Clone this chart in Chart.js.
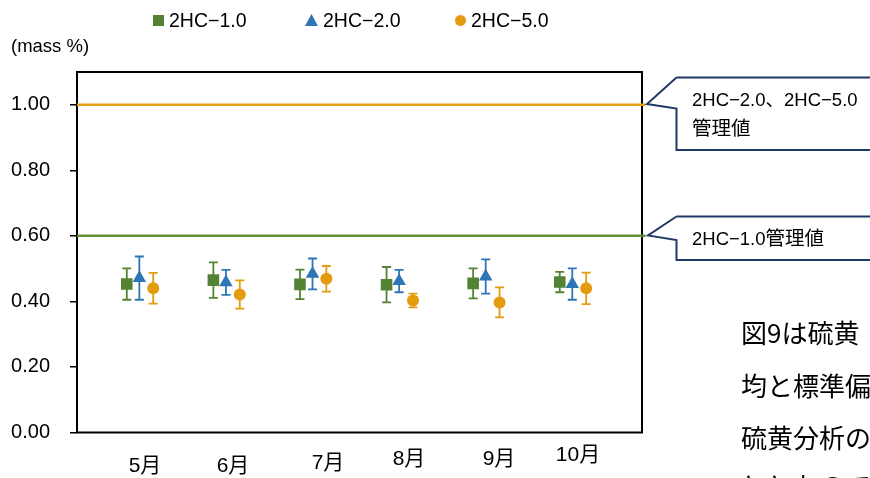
<!DOCTYPE html>
<html>
<head>
<meta charset="utf-8">
<script src="https://cdn.jsdelivr.net/npm/chart.js@4"></script>
<style>
  html, body { margin:0; padding:0; background:#fff; }
  #wrap { position:relative; width:870px; height:478px; overflow:hidden; font-family:"Liberation Sans","Noto Sans CJK JP",sans-serif; color:#000; }
  canvas { position:absolute; left:0; top:0; }
  .abs { position:absolute; white-space:nowrap; }
  .leg { position:absolute; top:9px; font-size:19.5px; line-height:22px; display:flex; align-items:center; }
  .mk { display:inline-block; margin-right:5px; }
  .month { position:absolute; font-size:21px; line-height:24px; transform:translate(-50%,-50%); font-family:"Liberation Sans","Noto Sans CJK JP",sans-serif; white-space:nowrap; }
  .note { position:absolute; left:741px; font-size:26px; font-family:"Noto Sans CJK JP",sans-serif; line-height:30px; white-space:nowrap; }
</style>
</head>
<body>
<div id="wrap">
  <canvas id="c" width="870" height="478"></canvas>
  <div id="legend"></div>
  <div class="abs" style="left:11px;top:35px;font-size:18.5px;">(mass %)</div>
  <div id="months"></div>
  <svg class="abs" style="left:0;top:0" width="870" height="478">
    <path d="M676.5,77.5 L870,77.5 M870,150 L676.5,150 L676.5,108.5 L647,104 L676.5,77.5" fill="#fff" stroke="#203864" stroke-width="2"/>
    <path d="M676.5,216.5 L870,216.5 M870,260 L676.5,260 L676.5,240 L648,235.5 L676.5,216.5" fill="#fff" stroke="#203864" stroke-width="2"/>
    <text x="692" y="106" font-size="18.5" font-family="Liberation Sans, Noto Sans CJK JP, sans-serif">2HC−2.0<tspan font-family="Noto Sans CJK JP, sans-serif">、</tspan>2HC−5.0</text>
    <text x="692" y="135" font-size="19.5" font-family="Noto Sans CJK JP, sans-serif">管理値</text>
    <text x="692" y="245" font-size="18.5" font-family="Liberation Sans, Noto Sans CJK JP, sans-serif">2HC−1.0<tspan font-family="Noto Sans CJK JP, sans-serif" font-size="19.5">管理値</tspan></text>
  </svg>
  <div class="note" style="top:317px;">図9は硫黄</div>
  <div class="note" style="top:370px;">均と標準偏</div>
  <div class="note" style="top:422px;">硫黄分析の</div>
  <div class="note" style="top:470px;">とともので</div>
</div>
<script>
// ---- data ----
const months = ['5月','6月','7月','8月','9月','10月'];
const seriesNames = ['2HC−1.0','2HC−2.0','2HC−5.0'];
const mean10 = [0.453, 0.465, 0.452, 0.451, 0.455, 0.459];
const sd10   = [0.048, 0.054, 0.045, 0.054, 0.046, 0.031];
const mean20 = [0.471, 0.458, 0.484, 0.462, 0.476, 0.453];
const sd20   = [0.066, 0.038, 0.047, 0.034, 0.052, 0.048];
const mean50 = [0.440, 0.421, 0.469, 0.403, 0.397, 0.440];
const sd50   = [0.047, 0.043, 0.039, 0.021, 0.046, 0.048];
const limit10   = 0.60;   // 2HC-1.0 管理値
const limit2050 = 1.00;   // 2HC-2.0、2HC-5.0 管理値
const yTicks = [0.00, 0.20, 0.40, 0.60, 0.80, 1.00];

// ---- styling / layout ----
const colors = ['#548235', '#2E75B6', '#E59B0E'];
const lineColors = {limit10:'#5E8F32', limit2050:'#E8A10E'};
const dodge = [-0.145, 0, 0.16];
const X_MIN = 0.28, X_MAX = 6.805, Y_MAX = 1.1;
const monthLabelPos = [[145,465],[233,465],[328,462],[409,458],[499,458],[578,454]];

const means = [mean10, mean20, mean50];
const sds = [sd10, sd20, sd50];
const styles = [
  {pointStyle:'rect', radius:8.2},
  {pointStyle:'triangle', radius:7.8},
  {pointStyle:'circle', radius:6}
];

// legend (HTML)
const legendPos = [153, 305, 455];
const legend = document.getElementById('legend');
seriesNames.forEach((n, i) => {
  const d = document.createElement('div');
  d.className = 'leg';
  d.style.left = legendPos[i] + 'px';
  let mk;
  if (i === 0) mk = '<span class="mk" style="width:11px;height:11px;background:'+colors[0]+'"></span>';
  else if (i === 1) mk = '<span class="mk" style="width:13px;height:12px;background:'+colors[1]+';clip-path:polygon(50% 0,100% 100%,0 100%)"></span>';
  else mk = '<span class="mk" style="width:11px;height:11px;border-radius:50%;background:'+colors[2]+'"></span>';
  d.innerHTML = mk + '<span>' + n + '</span>';
  legend.appendChild(d);
});

// month labels (text boxes)
const mdiv = document.getElementById('months');
months.forEach((m, i) => {
  const s = document.createElement('div');
  s.className = 'month';
  s.style.left = monthLabelPos[i][0] + 'px';
  s.style.top = monthLabelPos[i][1] + 'px';
  s.textContent = m;
  mdiv.appendChild(s);
});

const pointDatasets = means.map((arr, k) => ({
  label: seriesNames[k],
  data: arr.map((v, i) => ({x: i + 1 + dodge[k], y: v, sd: sds[k][i]})),
  showLine: false,
  pointStyle: styles[k].pointStyle,
  pointRadius: styles[k].radius,
  pointHoverRadius: styles[k].radius,
  backgroundColor: colors[k],
  borderColor: colors[k],
  borderWidth: 0,
  order: 1
}));

const limitDataset = (v, c) => ({
  data: [{x: X_MIN, y: v}, {x: X_MAX + 0.04, y: v}],
  showLine: true, pointRadius: 0, borderColor: c, borderWidth: 2.5,
  errorbar: false, order: 0, clip: false
});

const framePlugin = {
  id: 'frame',
  beforeDatasetsDraw(chart) {
    const a = chart.chartArea, ctx = chart.ctx;
    ctx.save();
    ctx.strokeStyle = '#000';
    ctx.lineWidth = 2;
    ctx.strokeRect(a.left, a.top, a.right - a.left, a.bottom - a.top);
    ctx.restore();
  }
};

const errorBarPlugin = {
  id: 'errorbars',
  beforeDatasetsDraw(chart) {
    const ctx = chart.ctx, xs = chart.scales.x, ys = chart.scales.y;
    ctx.save();
    ctx.lineWidth = 1.8;
    chart.data.datasets.forEach((ds, di) => {
      if (ds.errorbar === false) return;
      ctx.strokeStyle = ds.borderColor;
      ds.data.forEach(p => {
        const px = xs.getPixelForValue(p.x);
        const top = ys.getPixelForValue(p.y + p.sd);
        const bot = ys.getPixelForValue(p.y - p.sd);
        ctx.beginPath();
        ctx.moveTo(px, top); ctx.lineTo(px, bot);
        ctx.moveTo(px - 4.5, top); ctx.lineTo(px + 4.5, top);
        ctx.moveTo(px - 4.5, bot); ctx.lineTo(px + 4.5, bot);
        ctx.stroke();
      });
    });
    ctx.restore();
  }
};

new Chart(document.getElementById('c'), {
  type: 'scatter',
  data: {
    datasets: [
      ...pointDatasets,
      limitDataset(limit2050, lineColors.limit2050),
      limitDataset(limit10, lineColors.limit10)
    ]
  },
  options: {
    responsive: false,
    animation: false,
    events: [],
    layout: { padding: { left: 0, right: 228, top: 72, bottom: 45.5 } },
    plugins: { legend: { display: false }, tooltip: { enabled: false } },
    scales: {
      x: { type: 'linear', min: X_MIN, max: X_MAX, display: false },
      y: {
        type: 'linear', min: 0, max: Y_MAX,
        afterBuildTicks: s => { s.ticks = yTicks.map(v => ({value: v})); },
        afterFit: s => { s.width = 77; },
        border: { display: false },
        grid: { drawOnChartArea: false, drawTicks: true, tickLength: 7, color: '#000', lineWidth: 1.5 },
        ticks: {
          padding: 20,
          color: '#000',
          font: { family: 'Liberation Sans', size: 20 },
          callback: v => Number(v).toFixed(2)
        }
      }
    }
  },
  plugins: [framePlugin, errorBarPlugin]
});
</script>
</body>
</html>
